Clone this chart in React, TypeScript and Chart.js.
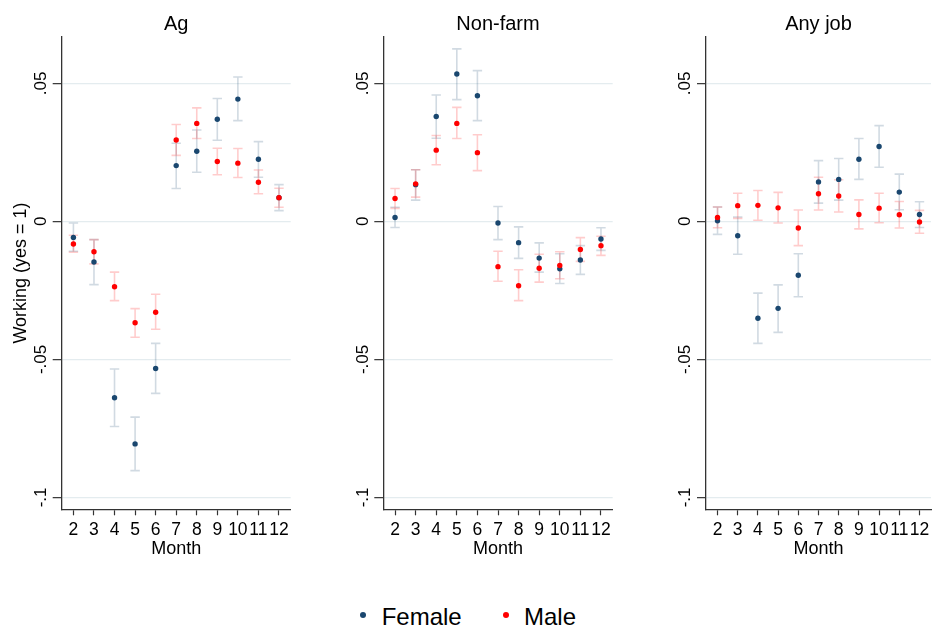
import React, { useEffect, useRef } from "react";
import { Chart, registerables } from "chart.js";

Chart.register(...registerables);

// ---------- data ----------
const months = [2, 3, 4, 5, 6, 7, 8, 9, 10, 11, 12];
const yTickValues = [-0.1, -0.05, 0, 0.05];
const yTickLabels = ["-.1", "-.05", "0", ".05"];
const panelTitles = ["Ag", "Non-farm", "Any job"];
const legendLabels = ["Female", "Male"];
const xAxisTitle = "Month";
const yAxisTitle = "Working (yes = 1)";

// Ag
const agFemale = [-0.0058, -0.0147, -0.0639, -0.0806, -0.0533, 0.0202, 0.0254, 0.037, 0.0443, 0.0225, 0.0086];
const agFemaleLo = [-0.0108, -0.0229, -0.0743, -0.0903, -0.0623, 0.0119, 0.0178, 0.0294, 0.0365, 0.016, 0.0039];
const agFemaleHi = [-0.0006, -0.0066, -0.0535, -0.0709, -0.0442, 0.0283, 0.0331, 0.0445, 0.0523, 0.0289, 0.0133];
const agMale = [-0.0082, -0.011, -0.0237, -0.0367, -0.0329, 0.0295, 0.0355, 0.0217, 0.0211, 0.0142, 0.0086];
const agMaleLo = [-0.0112, -0.0154, -0.0287, -0.042, -0.0391, 0.0239, 0.03, 0.0169, 0.0159, 0.01, 0.0051];
const agMaleHi = [-0.005, -0.0066, -0.0184, -0.0316, -0.0264, 0.0351, 0.0411, 0.0265, 0.0264, 0.0186, 0.012];

// Non-farm
const nfFemale = [0.0014, 0.0133, 0.038, 0.0534, 0.0455, -0.0006, -0.0077, -0.0133, -0.0172, -0.014, -0.0064];
const nfFemaleLo = [-0.0022, 0.0077, 0.0301, 0.0441, 0.0365, -0.0066, -0.0134, -0.0184, -0.0225, -0.0192, -0.0105];
const nfFemaleHi = [0.0051, 0.0187, 0.0458, 0.0625, 0.0546, 0.0054, -0.002, -0.0078, -0.0117, -0.0088, -0.0023];
const nfMale = [0.0083, 0.0136, 0.0258, 0.0355, 0.0249, -0.0164, -0.0233, -0.017, -0.016, -0.0102, -0.0088];
const nfMaleLo = [0.0047, 0.0088, 0.0205, 0.03, 0.0184, -0.0217, -0.0287, -0.022, -0.0208, -0.0145, -0.0123];
const nfMaleHi = [0.0119, 0.0187, 0.0311, 0.0413, 0.0314, -0.0108, -0.0175, -0.0119, -0.011, -0.0059, -0.0054];

// Any job
const ajFemale = [0.0002, -0.0052, -0.0351, -0.0315, -0.0195, 0.0143, 0.0152, 0.0225, 0.0271, 0.0106, 0.0025];
const ajFemaleLo = [-0.0047, -0.0119, -0.0442, -0.0402, -0.0273, 0.0066, 0.0077, 0.0152, 0.0196, 0.0042, -0.0022];
const ajFemaleHi = [0.0052, 0.0016, -0.026, -0.023, -0.0117, 0.022, 0.0228, 0.03, 0.0347, 0.0171, 0.0071];
const ajMale = [0.0014, 0.0057, 0.0058, 0.0049, -0.0024, 0.01, 0.0092, 0.0025, 0.0048, 0.0024, -0.0002];
const ajMaleLo = [-0.0023, 0.0011, 0.0004, -0.0006, -0.0088, 0.0041, 0.0034, -0.0027, -0.0005, -0.0024, -0.0043];
const ajMaleHi = [0.0052, 0.0102, 0.0112, 0.0105, 0.0041, 0.016, 0.0151, 0.0078, 0.0102, 0.0072, 0.004];

// ---------- styles ----------
const FONT = '"Liberation Sans", Arial, Helvetica, sans-serif';
const FEMALE = "#1a476f";
const MALE = "#ff0000";
const FEMALE_CI = "rgba(26,71,111,0.2)";
const MALE_CI = "rgba(255,0,0,0.2)";
const AXIS = "#333333";
const GRID = "#e4ecef";

const errorBarPlugin = {
  id: "errorBars",
  beforeDatasetsDraw(chart: any) {
    const { ctx, scales } = chart;
    const xs = scales.x;
    const ys = scales.y;
    ctx.save();
    chart.data.datasets.forEach((ds: any) => {
      ctx.strokeStyle = ds.ciColor;
      ctx.lineWidth = 1.6;
      ds.data.forEach((pt: any, i: number) => {
        const px = xs.getPixelForValue(pt.x);
        const pLo = ys.getPixelForValue(ds.lo[i]);
        const pHi = ys.getPixelForValue(ds.hi[i]);
        const hw = 4.7;
        ctx.beginPath();
        ctx.moveTo(px, pLo);
        ctx.lineTo(px, pHi);
        ctx.moveTo(px - hw, pLo);
        ctx.lineTo(px + hw, pLo);
        ctx.moveTo(px - hw, pHi);
        ctx.lineTo(px + hw, pHi);
        ctx.stroke();
      });
    });
    ctx.restore();
  },
};

type PanelProps = {
  title: string;
  canvasLeft: number;
  canvasWidth: number;
  areaLeft: number;
  areaRight: number;
  showYTitle: boolean;
  female: number[];
  femaleLo: number[];
  femaleHi: number[];
  male: number[];
  maleLo: number[];
  maleHi: number[];
};

const CANVAS_H = 570;

function Panel(p: PanelProps) {
  const ref = useRef<HTMLCanvasElement | null>(null);
  useEffect(() => {
    if (!ref.current) return;
    const toPts = (vals: number[]) => months.map((m, i) => ({ x: m, y: vals[i] }));
    const chart = new Chart(ref.current, {
      type: "scatter",
      data: {
        datasets: [
          {
            label: legendLabels[0],
            data: toPts(p.female),
            lo: p.femaleLo,
            hi: p.femaleHi,
            ciColor: FEMALE_CI,
            backgroundColor: FEMALE,
            borderColor: FEMALE,
            pointRadius: 2.7,
            pointBorderWidth: 0,
            order: 1,
          } as any,
          {
            label: legendLabels[1],
            data: toPts(p.male),
            lo: p.maleLo,
            hi: p.maleHi,
            ciColor: MALE_CI,
            backgroundColor: MALE,
            borderColor: MALE,
            pointRadius: 2.7,
            pointBorderWidth: 0,
            order: 0,
          } as any,
        ],
      },
      options: {
        responsive: false,
        animation: false,
        events: [],
        layout: {
          padding: { left: 0, top: 0, bottom: 0, right: p.canvasWidth - (p.areaRight - p.canvasLeft) },
        },
        plugins: {
          legend: { display: false },
          tooltip: { enabled: false },
          title: {
            display: true,
            text: p.title,
            fullSize: false,
            color: "#000",
            font: { family: FONT, size: 20, weight: "normal", lineHeight: 1 },
            padding: { top: 14, bottom: 2.7 },
          },
        },
        scales: {
          x: {
            type: "linear",
            min: 1.43,
            max: 12.57,
            afterBuildTicks: (s: any) => {
              s.ticks = months.map((v) => ({ value: v }));
            },
            afterFit: (s: any) => {
              s.height = 60.7;
            },
            ticks: {
              autoSkip: false,
              minRotation: 0,
              maxRotation: 0,
              padding: 4,
              color: "#000",
              font: { family: FONT, size: 17.5 },
              callback: (v: any) => String(v),
            },
            grid: { drawOnChartArea: false, drawTicks: true, tickLength: 6, tickColor: AXIS, tickWidth: 1.2 },
            border: { display: true, color: AXIS, width: 1.3 },
            title: {
              display: true,
              text: xAxisTitle,
              color: "#000",
              font: { family: FONT, size: 18, lineHeight: 1 },
              padding: { top: 0, bottom: 12 },
            },
          },
          y: {
            type: "linear",
            min: -0.1043,
            max: 0.0669,
            afterBuildTicks: (s: any) => {
              s.ticks = yTickValues.map((v) => ({ value: v }));
            },
            afterFit: (s: any) => {
              s.width = p.areaLeft - p.canvasLeft;
            },
            ticks: {
              minRotation: 90,
              maxRotation: 90,
              crossAlign: "center",
              padding: -3.4,
              color: "#000",
              font: { family: FONT, size: 17 },
              callback: (_v: any, i: number) => yTickLabels[i],
            },
            grid: { color: GRID, lineWidth: 1.3, drawTicks: true, tickLength: 9, tickColor: AXIS, tickWidth: 1.2 },
            border: { display: true, color: AXIS, width: 1.3 },
            title: {
              display: p.showYTitle,
              text: yAxisTitle,
              color: "#000",
              font: { family: FONT, size: 18, lineHeight: 1 },
              padding: { top: 12, bottom: 0 },
            },
          },
        },
      } as any,
      plugins: [errorBarPlugin as any],
    });
    return () => chart.destroy();
  }, []);
  return (
    <canvas
      ref={ref}
      width={p.canvasWidth}
      height={CANVAS_H}
      style={{ position: "absolute", left: p.canvasLeft, top: 0, width: p.canvasWidth, height: CANVAS_H }}
    />
  );
}

export default function App() {
  const legendFont: React.CSSProperties = {
    position: "absolute",
    fontFamily: FONT,
    fontSize: 24,
    lineHeight: "24px",
    color: "#000",
    whiteSpace: "nowrap",
  };
  const dot = (color: string, cx: number, cy: number): React.CSSProperties => ({
    position: "absolute",
    left: cx - 3,
    top: cy - 3,
    width: 6,
    height: 6,
    borderRadius: 3,
    background: color,
  });
  return (
    <div style={{ position: "absolute", left: 0, top: 0, width: 935, height: 629, background: "#fff", overflow: "hidden" }}>
      <Panel
        title={panelTitles[0]}
        canvasLeft={0}
        canvasWidth={300}
        areaLeft={61.7}
        areaRight={290.7}
        showYTitle={true}
        female={agFemale}
        femaleLo={agFemaleLo}
        femaleHi={agFemaleHi}
        male={agMale}
        maleLo={agMaleLo}
        maleHi={agMaleHi}
      />
      <Panel
        title={panelTitles[1]}
        canvasLeft={300}
        canvasWidth={322}
        areaLeft={383.3}
        areaRight={612.7}
        showYTitle={false}
        female={nfFemale}
        femaleLo={nfFemaleLo}
        femaleHi={nfFemaleHi}
        male={nfMale}
        maleLo={nfMaleLo}
        maleHi={nfMaleHi}
      />
      <Panel
        title={panelTitles[2]}
        canvasLeft={622}
        canvasWidth={313}
        areaLeft={706}
        areaRight={935}
        showYTitle={false}
        female={ajFemale}
        femaleLo={ajFemaleLo}
        femaleHi={ajFemaleHi}
        male={ajMale}
        maleLo={ajMaleLo}
        maleHi={ajMaleHi}
      />
      <div style={dot(FEMALE, 363.3, 615)} />
      <div style={{ ...legendFont, left: 381.7, top: 605.4 }}>{legendLabels[0]}</div>
      <div style={dot(MALE, 506, 615)} />
      <div style={{ ...legendFont, left: 524, top: 605.4 }}>{legendLabels[1]}</div>
    </div>
  );
}
